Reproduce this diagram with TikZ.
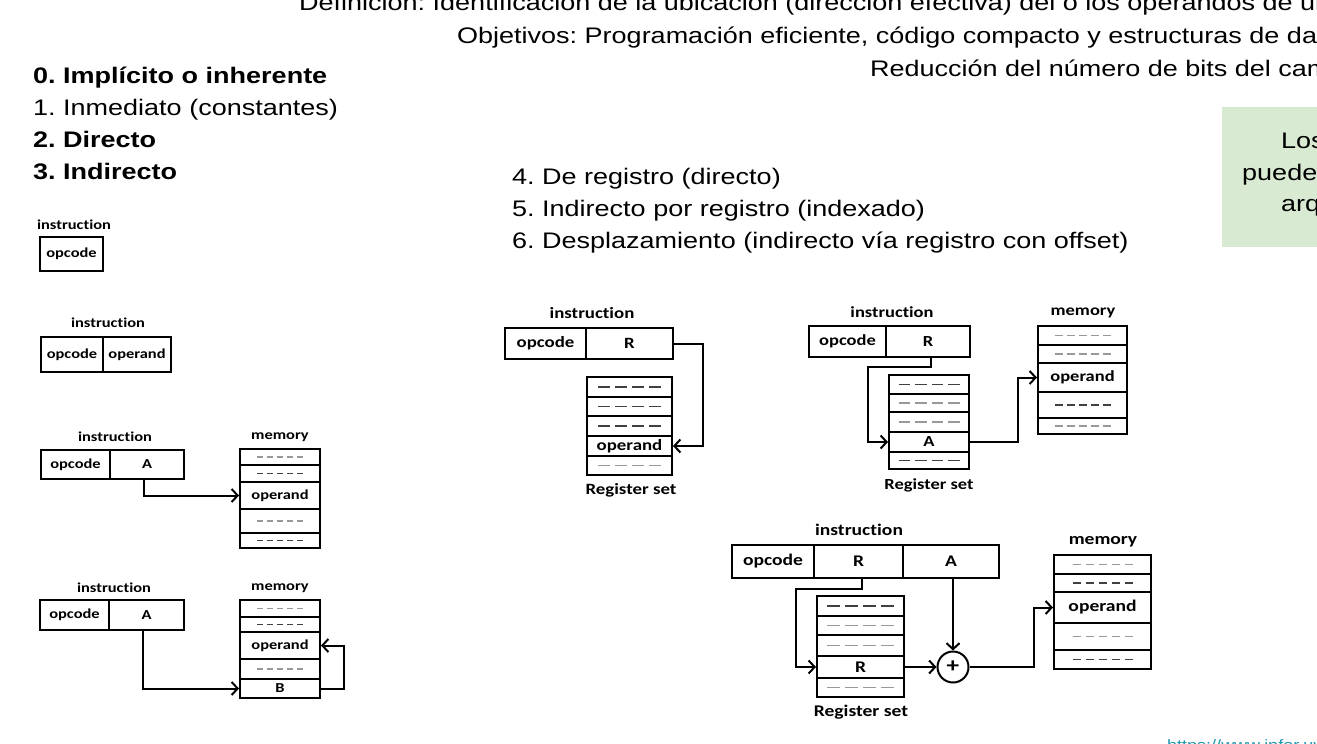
\documentclass[tikz,border=0pt]{standalone}
\usepackage{fontspec}
\setmainfont[FakeStretch=1.2]{Liberation Sans}
\newfontfamily\calfont[FakeStretch=1.2,Ligatures={NoCommon}]{Carlito}
\usetikzlibrary{arrows.meta,calc}
\definecolor{notegreen}{RGB}{217,234,211}
\definecolor{urlteal}{RGB}{30,150,175}
\frenchspacing
\tikzset{
  hdr/.style={anchor=base west, inner sep=0pt, font=\fontsize{22.5}{27}\selectfont},
  hdrb/.style={anchor=base west, inner sep=0pt, font=\fontsize{22.5}{27}\selectfont\bfseries},
  cell/.style={draw, line width=2pt, inner sep=0pt},
  arr/.style={line width=2pt, -{Straight Barb[length=6pt,width=13pt,line width=2pt]}},
  dk/.style={line width=1.1pt, black!75},
  lt/.style={line width=1.1pt, black!40},
  df/.style={font=\calfont\bfseries\fontsize{#1}{#1}\selectfont},
}
\newcommand{\mycell}[6]{\node[cell, minimum width={(#4-#2)*1pt}, minimum height={(#5-#3)*1pt}] (#1) at ({(#2+#4)/2},{(#3+#5)/2}) {#6};}
\newcommand{\dashcell}[4]{\draw[#3,#4] ([xshift=-#2pt]#1.center) -- ([xshift=#2pt]#1.center);}
\begin{document}
\begin{tikzpicture}[x=1pt,y=-1pt]
\useasboundingbox (0,0) rectangle (1317,744);
\clip (0,0) rectangle (1317,744);
% header text
\node[hdr] (t1) at (299,10) {Definición: Identificación de la ubicación (dirección efectiva) del o los operandos de un};
\node[hdr] (t2) at (457,43) {Objetivos: Programación eficiente, código compacto y estructuras de dat};
\node[hdr] (t3) at (870,76) {Reducción del número de bits del cam};
\node[hdrb] (l0) at (33,83) {0. Implícito o inherente};
\node[hdr] (l1) at (33,115) {1. Inmediato (constantes)};
\node[hdrb] (l2) at (33,147) {2. Directo};
\node[hdrb] (l3) at (33,179) {3. Indirecto};
\node[hdr] (l4) at (512,184) {4. De registro (directo)};
\node[hdr] (l5) at (512,216) {5. Indirecto por registro (indexado)};
\node[hdr] (l6) at (512,248) {6. Desplazamiento (indirecto vía registro con offset)};
% green note
\fill[notegreen] (1222,107) rectangle (1330,247);
\node[hdr] (g1) at (1281,148) {Los};
\node[hdr] (g2) at (1242,180) {puede};
\node[hdr] (g3) at (1281,211) {arq};
\node[anchor=base west, inner sep=0pt, text=urlteal, font=\fontsize{15}{15}\selectfont] (url) at (1167,750) {https://www.infor.uv};

% diagram 0 and 1
\begin{scope}[df=13.7]
\node (i0) at (74,225) {instruction};
\mycell{o0}{40}{237}{103}{271}{opcode}
\node (i1) at (108,323) {instruction};
\mycell{o1}{41}{337}{103}{372}{opcode}
\mycell{p1}{103}{337}{171}{372}{operand}
\end{scope}

% diagram 2: direct
\begin{scope}[df=13.7]
\node (i2) at (115,437) {instruction};
\mycell{o2}{41}{450}{110}{479}{opcode}
\mycell{a2}{110}{450}{184}{479}{A}
\node (mm2) at (280,437) {memory};
\mycell{m2a}{240}{449}{320}{465}{}
\mycell{m2b}{240}{465}{320}{482}{}
\mycell{m2c}{240}{482}{320}{509}{operand}
\mycell{m2d}{240}{509}{320}{533}{}
\mycell{m2e}{240}{533}{320}{548}{}
\end{scope}
\begin{scope}[dash pattern=on 6pt off 4pt]
\dashcell{m2a}{23}{lt}{}
\dashcell{m2b}{23}{dk}{}
\dashcell{m2d}{23}{lt}{}
\dashcell{m2e}{23}{dk}{}
\end{scope}
\draw[arr] ([xshift=-3.5pt]a2.south) |- (m2c.west);

% diagram 3: indirect
\begin{scope}[df=13.7]
\node (i3) at (114,588) {instruction};
\mycell{o3}{40}{600}{109}{630}{opcode}
\mycell{a3}{109}{600}{184}{630}{A}
\node (mm3) at (280,588) {memory};
\mycell{m3a}{240}{600}{320}{617}{}
\mycell{m3b}{240}{617}{320}{632}{}
\mycell{m3c}{240}{632}{320}{659}{operand}
\mycell{m3d}{240}{659}{320}{679}{}
\mycell{m3e}{240}{679}{320}{698}{B}
\end{scope}
\begin{scope}[dash pattern=on 6pt off 4pt]
\dashcell{m3a}{23}{lt}{}
\dashcell{m3b}{23}{dk}{}
\dashcell{m3d}{23}{lt}{}
\end{scope}
\draw[arr] ([xshift=-3.5pt]a3.south) |- (m3e.west);
\draw[arr] (m3e.east) -- ++(23,0) |- (m3c.east);

% diagram 4: register
\begin{scope}[df=15.7]
\node (i4) at (592,313) {instruction};
\mycell{o4}{505}{328}{586}{359}{opcode}
\mycell{r4}{586}{328}{673}{359}{R}
\mycell{g4a}{587}{377}{672}{397}{}
\mycell{g4b}{587}{397}{672}{416}{}
\mycell{g4c}{587}{416}{672}{436}{}
\mycell{g4d}{587}{436}{672}{456}{operand}
\mycell{g4e}{587}{456}{672}{475}{}
\node (rs4) at (631,490) {Register set};
\end{scope}
\begin{scope}[dash pattern=on 12pt off 5pt]
\dashcell{g4a}{31.5}{dk}{}
\dashcell{g4b}{31.5}{dk}{}
\dashcell{g4c}{31.5}{dk}{}
\dashcell{g4e}{31.5}{lt}{}
\end{scope}
\draw[arr] (r4.east) -- ++(29,0) |- (g4d.east);

% diagram 5: register indirect
\begin{scope}[df=15.4]
\node (i5) at (892,312) {instruction};
\mycell{o5}{809}{326}{886}{357}{opcode}
\mycell{r5}{886}{326}{970}{357}{R}
\mycell{g5a}{889}{375}{969}{394}{}
\mycell{g5b}{889}{394}{969}{412}{}
\mycell{g5c}{889}{412}{969}{432}{}
\mycell{g5d}{889}{432}{969}{452}{A}
\mycell{g5e}{889}{452}{969}{469}{}
\node (rs5) at (929,485) {Register set};
\node (mm5) at (1083,313) {memory};
\mycell{m5a}{1038}{326}{1127}{345}{}
\mycell{m5b}{1038}{345}{1127}{363}{}
\mycell{m5c}{1038}{363}{1127}{392}{operand}
\mycell{m5d}{1038}{392}{1127}{418}{}
\mycell{m5e}{1038}{418}{1127}{434}{}
\end{scope}
\begin{scope}[dash pattern=on 11.5pt off 5pt]
\dashcell{g5a}{30.5}{dk}{}
\dashcell{g5b}{30.5}{lt}{}
\dashcell{g5c}{30.5}{lt}{}
\dashcell{g5e}{30.5}{dk}{}
\end{scope}
\begin{scope}[dash pattern=on 8pt off 4pt]
\dashcell{m5a}{28}{lt}{}
\dashcell{m5b}{28}{lt}{}
\dashcell{m5d}{28}{dk}{}
\dashcell{m5e}{28}{lt}{}
\end{scope}
\draw[arr] ([xshift=3pt]r5.south) -- ++(0,9) -| ([xshift=-20pt]g5d.west) -- (g5d.west);
\draw[arr] (g5d.east) -- ++(48,0) |- (m5c.west);

% diagram 6: displacement
\begin{scope}[df=16.3]
\node (i6) at (859,530) {instruction};
\mycell{o6}{732}{545}{814}{578}{opcode}
\mycell{r6}{814}{545}{903}{578}{R}
\mycell{a6}{903}{545}{999}{578}{A}
\mycell{g6a}{817}{596}{904}{616}{}
\mycell{g6b}{817}{616}{904}{635}{}
\mycell{g6c}{817}{635}{904}{656}{}
\mycell{g6d}{817}{656}{904}{678}{R}
\mycell{g6e}{817}{678}{904}{697}{}
\node (rs6) at (861,712) {Register set};
\node[circle, draw, line width=2pt, minimum size=31pt, inner sep=0pt, df=21] (pl) at (953,667) {+};
\node (mm6) at (1103,542) {memory};
\mycell{m6a}{1054}{555}{1151}{574}{}
\mycell{m6b}{1054}{574}{1151}{592}{}
\mycell{m6c}{1054}{592}{1151}{623}{operand}
\mycell{m6d}{1054}{623}{1151}{650}{}
\mycell{m6e}{1054}{650}{1151}{669}{}
\end{scope}
\begin{scope}[dash pattern=on 13pt off 5pt]
\dashcell{g6a}{33.5}{dk}{}
\dashcell{g6b}{33.5}{lt}{}
\dashcell{g6c}{33.5}{lt}{}
\dashcell{g6e}{33.5}{lt}{}
\end{scope}
\begin{scope}[dash pattern=on 8pt off 5pt]
\dashcell{m6a}{30}{lt}{}
\dashcell{m6b}{30}{dk}{}
\dashcell{m6d}{30}{lt}{}
\dashcell{m6e}{30}{dk}{}
\end{scope}
\draw[arr] ([xshift=3pt]r6.south) -- ++(0,10) -| ([xshift=-20pt]g6d.west) -- (g6d.west);
\draw[arr] (a6.south -| pl.north) -- (pl.north);
\draw[arr] (g6d.east) -- (pl.west);
\draw[arr] (pl.east) -- ++(64,0) |- (m6c.west);
\end{tikzpicture}
\end{document}
